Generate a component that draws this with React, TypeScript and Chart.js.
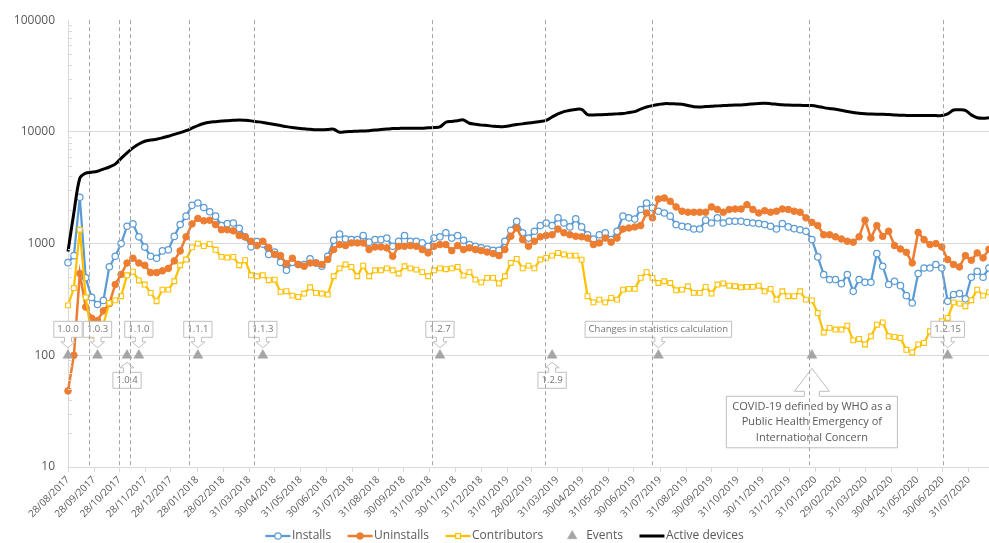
import React, { useEffect, useRef } from "react";
import { Chart, registerables } from "chart.js";

Chart.register(...registerables);

// Weekly series, week 0 = 28/08/2017, one value per week (x = week * 7 days)
const installs = [
  675, 780, 2600, 495, 330, 285, 310, 620, 770, 1000,
  1430, 1500, 1150, 930, 770, 740, 860, 880, 1160, 1480,
  1760, 2200, 2310, 2100, 1930, 1760, 1450, 1510, 1530, 1370,
  1150, 935, 1040, 990, 800, 840, 680, 577, 680, 650,
  650, 730, 670, 627, 770, 1070, 1220, 1100, 1085, 1085,
  1180, 1030, 1085, 1085, 1120, 946, 1050, 1180, 1050, 1050,
  1014, 946, 1120, 1150, 1250, 1120, 1180, 1070, 980, 946,
  915, 895, 870, 870, 1050, 1316, 1585, 1250, 1120, 1290,
  1450, 1530, 1450, 1700, 1530, 1410, 1670, 1410, 1200, 1100,
  1200, 1250, 1086, 1290, 1760, 1700, 1660, 2020, 2310, 2090,
  1950, 1880, 1760, 1480, 1430, 1410, 1350, 1350, 1620, 1530,
  1700, 1530, 1585, 1585, 1585, 1550, 1530, 1510, 1480, 1430,
  1350, 1510, 1410, 1360, 1330, 1290, 1086, 760, 528, 476,
  476, 438, 528, 374, 476, 450, 450, 814, 627, 430,
  460, 420, 342, 294, 540, 605, 605, 650, 605, 305,
  350, 357, 320, 500, 565, 500, 605,
];

const uninstalls = [
  48, 100, 540, 270, 215, 205, 250, 290, 430, 530,
  670, 740, 670, 640, 550, 550, 570, 600, 700, 860,
  1150, 1500, 1680, 1600, 1620, 1480, 1330, 1330, 1300, 1180,
  1150, 1050, 960, 1050, 920, 800, 780, 660, 740, 650,
  627, 670, 670, 650, 720, 884, 980, 960, 1014, 1014,
  1014, 884, 933, 933, 915, 770, 946, 946, 960, 946,
  884, 825, 946, 980, 980, 865, 960, 884, 915, 884,
  865, 840, 814, 780, 884, 1163, 1380, 1086, 946, 1050,
  1150, 1180, 1200, 1350, 1250, 1200, 1163, 1150, 1120, 980,
  1014, 1120, 1030, 1120, 1350, 1380, 1410, 1450, 1880, 1700,
  2510, 2560, 2390, 2130, 1950, 1910, 1910, 1910, 1910, 2130,
  2020, 1910, 2020, 2040, 2040, 2230, 2020, 1880, 1970, 1910,
  1950, 2040, 2020, 1950, 1910, 1700, 1550, 1450, 1200, 1200,
  1150, 1100, 1050, 1030, 1150, 1620, 1120, 1450, 1160, 1290,
  960, 895, 836, 671, 1260, 1086, 980, 1000, 933, 719,
  650, 618, 780, 710, 825, 745, 890,
];

const contributors = [
  280, 400, 1330, 330, 150, 140, 190, 294, 310, 338,
  520, 560, 468, 430, 362, 305, 387, 387, 460, 640,
  720, 925, 1000, 950, 990, 880, 760, 750, 760, 640,
  710, 520, 510, 520, 470, 475, 370, 375, 342, 333,
  357, 406, 362, 357, 350, 510, 600, 650, 618, 510,
  635, 510, 577, 577, 600, 577, 540, 627, 600, 585,
  555, 510, 577, 600, 590, 600, 618, 517, 555, 476,
  450, 493, 493, 440, 510, 671, 730, 600, 635, 600,
  720, 745, 780, 825, 800, 780, 780, 719, 338, 298,
  315, 298, 326, 315, 387, 393, 393, 493, 555, 493,
  444, 460, 444, 382, 387, 415, 362, 362, 410, 357,
  430, 440, 420, 415, 406, 410, 410, 420, 374, 393,
  315, 374, 338, 338, 374, 315, 310, 239, 160, 176,
  170, 170, 184, 136, 140, 125, 148, 188, 197, 148,
  146, 143, 112, 106, 125, 129, 164, 182, 202, 216,
  298, 290, 275, 311, 387, 342, 366,
];

const activeDevices = [
  850, 1900, 3850, 4270, 4350, 4450, 4640, 4850, 5150, 5800,
  6500, 7200, 7800, 8250, 8450, 8600, 8850, 9150, 9500, 9850,
  10250, 10800, 11400, 11900, 12200, 12350, 12500, 12600, 12700, 12800,
  12700, 12550, 12350, 12150, 11900, 11650, 11400, 11150, 10950, 10800,
  10650, 10550, 10450, 10450, 10500, 10570, 9940, 10050, 10100, 10150,
  10200, 10250, 10400, 10500, 10600, 10700, 10750, 10800, 10800, 10800,
  10800, 10900, 10950, 11100, 12200, 12400, 12600, 12800, 11950, 11700,
  11500, 11400, 11250, 11150, 11200, 11400, 11650, 11800, 12000, 12200,
  12400, 12700, 13600, 14500, 15200, 15600, 15900, 15900, 14300, 14200,
  14250, 14300, 14400, 14500, 14600, 14900, 15200, 16000, 16700, 17200,
  17600, 17900, 17900, 17800, 17700, 17200, 16800, 16750, 16850, 16950,
  17100, 17200, 17300, 17400, 17450, 17600, 17800, 18000, 18050, 17900,
  17700, 17500, 17400, 17350, 17300, 17250, 17200, 16900, 16500, 16200,
  15950, 15600, 15250, 14950, 14700, 14550, 14450, 14400, 14400, 14300,
  14200, 14100, 14050, 14000, 14000, 14000, 14000, 14000, 14000, 14500,
  15700, 15750, 15600, 14200, 13400, 13250, 13400,
];

// Events (weeks since 28/08/2017), plotted at value 100
const eventWeeks = [0, 5, 10, 12, 22, 33, 63, 82, 100, 126, 149];
const eventValue = 100;
const eventLabels = [
  "1.0.0",
  "1.0.3",
  "1.0.4",
  "1.1.0",
  "1.1.1",
  "1.1.3",
  "1.2.7",
  "1.2.9",
  "Changes in statistics calculation",
  "COVID-19 defined by WHO as a\nPublic Health Emergency of\nInternational Concern",
  "1.2.15",
];
const eventCalloutBelow = [false, false, true, false, false, false, false, true, false, true, false];

// Dashed vertical lines (days since 28/08/2017)
const eventLineDays = [25, 60, 74, 143, 220, 432, 565, 692, 878, 1037];

// X axis ticks (days since 28/08/2017) and their labels
const tickDays = [
  0, 31, 61, 92, 122, 153, 184, 215, 245, 276, 306, 337, 368, 398, 429, 459, 490, 521,
  549, 580, 610, 641, 671, 702, 733, 763, 794, 824, 855, 886, 915, 946, 976, 1007, 1037, 1068,
];
const tickLabels = [
  "28/08/2017", "28/09/2017", "28/10/2017", "28/11/2017", "28/12/2017", "28/01/2018",
  "28/02/2018", "31/03/2018", "30/04/2018", "31/05/2018", "30/06/2018", "31/07/2018",
  "31/08/2018", "30/09/2018", "31/10/2018", "30/11/2018", "31/12/2018", "31/01/2019",
  "28/02/2019", "31/03/2019", "30/04/2019", "31/05/2019", "30/06/2019", "31/07/2019",
  "31/08/2019", "30/09/2019", "31/10/2019", "30/11/2019", "31/12/2019", "31/01/2020",
  "29/02/2020", "31/03/2020", "30/04/2020", "31/05/2020", "30/06/2020", "31/07/2020",
];
const xMaxDays = 1092;

const yTicks = [10, 100, 1000, 10000, 100000];
const yMinorSteps = [2, 3, 4, 5, 6, 7, 8, 9];

const FONT = '"Open Sans", "DejaVu Sans", sans-serif';
const TEXT = "#595959";
const GRID = "#d9d9d9";

const toPoints = (arr: number[]) => arr.map((v, i) => ({ x: i * 7, y: v }));

function drawCallout(
  ctx: CanvasRenderingContext2D,
  cx: number,
  py: number,
  text: string,
  below: boolean
) {
  const lines = text.split("\n");
  const multi = lines.length > 1;
  const fontSize = multi ? 11 : 9.5;
  const lineH = multi ? 15.5 : 12;
  ctx.font = `${fontSize}px ${FONT}`;
  const tw = Math.max(...lines.map((l) => ctx.measureText(l).width));
  const padX = multi ? 6 : 3.5;
  const boxW = tw + padX * 2;
  const boxH = multi ? lines.length * lineH + 5 : 16;
  const sw = multi ? 7.5 : 3.5;
  const hw = multi ? 17.5 : 7;
  let T: number, B: number, hb: number, tip: number;
  if (below) {
    T = multi ? py + 41 : py + 17;
    B = T + boxH;
    hb = multi ? py + 36 : py + 12.5;
    tip = multi ? py + 13 : py + 7;
  } else {
    B = py - 18;
    T = B - boxH;
    hb = B + 4.5;
    tip = py - 7.5;
  }
  const L = cx - boxW / 2;
  const R = cx + boxW / 2;
  ctx.beginPath();
  if (below) {
    ctx.moveTo(L, T);
    ctx.lineTo(cx - sw, T);
    ctx.lineTo(cx - sw, hb);
    ctx.lineTo(cx - hw, hb);
    ctx.lineTo(cx, tip);
    ctx.lineTo(cx + hw, hb);
    ctx.lineTo(cx + sw, hb);
    ctx.lineTo(cx + sw, T);
    ctx.lineTo(R, T);
    ctx.lineTo(R, B);
    ctx.lineTo(L, B);
  } else {
    ctx.moveTo(L, T);
    ctx.lineTo(R, T);
    ctx.lineTo(R, B);
    ctx.lineTo(cx + sw, B);
    ctx.lineTo(cx + sw, hb);
    ctx.lineTo(cx + hw, hb);
    ctx.lineTo(cx, tip);
    ctx.lineTo(cx - hw, hb);
    ctx.lineTo(cx - sw, hb);
    ctx.lineTo(cx - sw, B);
    ctx.lineTo(L, B);
  }
  ctx.closePath();
  ctx.fillStyle = "#ffffff";
  ctx.fill();
  ctx.strokeStyle = "#bfbfbf";
  ctx.lineWidth = 1;
  ctx.stroke();
  ctx.fillStyle = multi ? TEXT : "#767676";
  ctx.textAlign = "center";
  ctx.textBaseline = "middle";
  const midY = (T + B) / 2;
  lines.forEach((l, i) => {
    ctx.fillText(l, cx, midY + (i - (lines.length - 1) / 2) * lineH);
  });
}

const overlayPlugin = {
  id: "overlay",
  afterDatasetsDraw(chart: any) {
    const { ctx, chartArea } = chart;
    const x = chart.scales.x;
    const y = chart.scales.y;
    ctx.save();
    // minor tick marks on the value axis
    ctx.strokeStyle = GRID;
    ctx.lineWidth = 1;
    for (let i = 0; i < yTicks.length - 1; i++) {
      yMinorSteps.forEach((k) => {
        const py = Math.round(y.getPixelForValue(k * yTicks[i])) + 0.5;
        ctx.beginPath();
        ctx.moveTo(chartArea.left, py);
        ctx.lineTo(chartArea.left + 4, py);
        ctx.stroke();
      });
    }
    // callouts
    eventWeeks.forEach((w, i) => {
      const cx = x.getPixelForValue(w * 7);
      const py = y.getPixelForValue(eventValue);
      drawCallout(ctx, cx, py, eventLabels[i], eventCalloutBelow[i]);
    });
    // dashed event lines
    ctx.setLineDash([4, 3]);
    ctx.strokeStyle = "#a6a6a6";
    ctx.lineWidth = 1;
    eventLineDays.forEach((d) => {
      const px = Math.round(x.getPixelForValue(d)) + 0.5;
      ctx.beginPath();
      ctx.moveTo(px, chartArea.top);
      ctx.lineTo(px, chartArea.bottom);
      ctx.stroke();
    });
    ctx.restore();
  },
  afterDraw(chart: any) {
    const { ctx } = chart;
    const ds = chart.data.datasets;
    ctx.save();
    ctx.font = `12px ${FONT}`;
    const iconW = 25;
    const textGap = 1.5;
    const itemGap = 16.5;
    const widths = ds.map((d: any) => iconW + textGap + ctx.measureText(d.label).width);
    const total = widths.reduce((a: number, b: number) => a + b, 0) + itemGap * (ds.length - 1);
    let lx = 504.6 - total / 2;
    const ly = 536;
    ds.forEach((d: any, i: number) => {
      const mid = lx + iconW / 2;
      if (d.showLine !== false) {
        ctx.strokeStyle = d.borderColor;
        ctx.lineWidth = d.borderWidth;
        ctx.beginPath();
        ctx.moveTo(lx, ly);
        ctx.lineTo(lx + iconW, ly);
        ctx.stroke();
      }
      if (d.pointRadius > 0) {
        ctx.fillStyle = d.pointBackgroundColor;
        ctx.strokeStyle = d.pointBorderColor;
        ctx.lineWidth = d.pointBorderWidth;
        ctx.beginPath();
        const r = d.pointRadius;
        if (d.pointStyle === "circle") {
          ctx.arc(mid, ly, r, 0, Math.PI * 2);
        } else if (d.pointStyle === "rect") {
          const s = Math.SQRT1_2 * r;
          ctx.rect(mid - s, ly - s, 2 * s, 2 * s);
        } else if (d.pointStyle === "triangle") {
          const r2 = r * 0.95;
          ctx.moveTo(mid, ly - r2);
          ctx.lineTo(mid + r2 * Math.sin((2 * Math.PI) / 3), ly - r2 * Math.cos((2 * Math.PI) / 3));
          ctx.lineTo(mid - r2 * Math.sin((2 * Math.PI) / 3), ly - r2 * Math.cos((2 * Math.PI) / 3));
          ctx.closePath();
        }
        ctx.fill();
        ctx.stroke();
      }
      ctx.fillStyle = TEXT;
      ctx.textAlign = "left";
      ctx.textBaseline = "middle";
      ctx.fillText(d.label, lx + iconW + textGap, ly);
      lx += widths[i] + itemGap;
    });
    ctx.restore();
  },
};

export default function App() {
  const ref = useRef<HTMLCanvasElement>(null);
  useEffect(() => {
    if (!ref.current) return;
    const chart = new Chart(ref.current, {
      type: "line",
      data: {
        datasets: [
          {
            label: "Installs",
            data: toPoints(installs),
            borderColor: "#5B9BD5",
            borderWidth: 2.25,
            pointStyle: "circle",
            pointRadius: 3.2,
            pointBorderWidth: 1.25,
            pointBackgroundColor: "#ffffff",
            pointBorderColor: "#5B9BD5",
            tension: 0,
            clip: false,
            order: 5,
          },
          {
            label: "Uninstalls",
            data: toPoints(uninstalls),
            borderColor: "#ED7D31",
            borderWidth: 2.5,
            pointStyle: "circle",
            pointRadius: 3.3,
            pointBorderWidth: 1,
            pointBackgroundColor: "#ED7D31",
            pointBorderColor: "#ED7D31",
            tension: 0,
            clip: false,
            order: 4,
          },
          {
            label: "Contributors",
            data: toPoints(contributors),
            borderColor: "#FFC000",
            borderWidth: 2.25,
            pointStyle: "rect",
            pointRadius: 3.4,
            pointBorderWidth: 1.1,
            pointBackgroundColor: "#ffffff",
            pointBorderColor: "#FFC000",
            tension: 0,
            clip: false,
            order: 3,
          },
          {
            label: "Events",
            data: eventWeeks.map((w) => ({ x: w * 7, y: eventValue })),
            showLine: false,
            borderColor: "#A5A5A5",
            borderWidth: 0,
            pointStyle: "triangle",
            pointRadius: 5.8,
            pointBorderWidth: 0.5,
            pointBackgroundColor: "#A5A5A5",
            pointBorderColor: "#A5A5A5",
            clip: false,
            order: 2,
          },
          {
            label: "Active devices",
            data: toPoints(activeDevices),
            borderColor: "#000000",
            borderWidth: 3,
            pointRadius: 0,
            tension: 0.3,
            clip: false,
            order: 1,
          },
        ] as any,
      },
      options: {
        animation: false,
        responsive: false,
        devicePixelRatio: 1,
        events: [],
        layout: { autoPadding: false, padding: { top: 19, right: 0, bottom: 20, left: 0 } },
        plugins: { legend: { display: false }, tooltip: { enabled: false } },
        scales: {
          x: {
            type: "linear",
            min: 0,
            max: xMaxDays,
            afterBuildTicks: (s: any) => {
              s.ticks = tickDays.map((v) => ({ value: v }));
            },
            afterFit: (s: any) => {
              s.height = 56;
              s.paddingLeft = 0;
              s.paddingRight = 0;
            },
            ticks: {
              autoSkip: false,
              minRotation: 45,
              maxRotation: 45,
              padding: 2,
              color: TEXT,
              font: { family: FONT, size: 10 },
              callback: (v: any) => {
                const i = tickDays.indexOf(Number(v));
                return i >= 0 ? tickLabels[i] : "";
              },
            },
            grid: { drawOnChartArea: false, drawTicks: true, tickLength: 5, color: GRID },
            border: { color: GRID },
          },
          y: {
            type: "logarithmic",
            min: yTicks[0],
            max: yTicks[yTicks.length - 1],
            afterBuildTicks: (s: any) => {
              s.ticks = yTicks.map((v) => ({ value: v, major: true }));
            },
            afterFit: (s: any) => {
              s.width = 68;
            },
            ticks: {
              padding: 13,
              color: TEXT,
              font: { family: FONT, size: 12 },
              callback: (v: any) => String(v),
            },
            grid: {
              drawTicks: false,
              color: (c: any) =>
                c.tick && c.tick.value > yTicks[0] && c.tick.value < yTicks[yTicks.length - 1]
                  ? GRID
                  : "rgba(0,0,0,0)",
            },
            border: { color: GRID },
          },
        },
      } as any,
      plugins: [overlayPlugin],
    });
    return () => chart.destroy();
  }, []);
  return (
    <div style={{ position: "absolute", left: 0, top: 0, width: 989, height: 543, background: "#fff" }}>
      <canvas ref={ref} width={989} height={543} style={{ display: "block" }} />
    </div>
  );
}
